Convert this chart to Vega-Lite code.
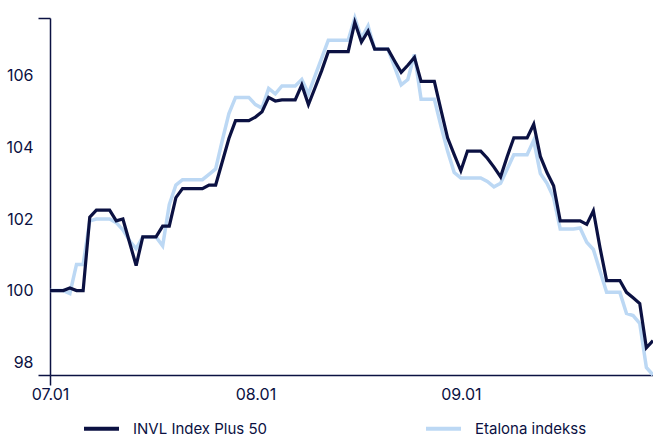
{
  "$schema": "https://vega.github.io/schema/vega-lite/v6.json",
  "width": 603,
  "height": 357,
  "autosize": {"type": "none"},
  "padding": {"left": 50, "top": 18, "right": 0, "bottom": 61},
  "background": "white",
  "config": {
    "view": {"stroke": null},
    "font": "Inter",
    "axis": {
      "grid": false,
      "domainColor": "#0b1142",
      "domainWidth": 1.5,
      "tickWidth": 1.5,
      "labelColor": "#0b1142",
      "labelFontSize": 16,
      "labelFont": "Inter",
      "labelOverlap": false,
      "labelFlush": false
    }
  },
  "data": {
    "values": [
      {"date": "2025-07-01", "INVL Index Plus 50": 100.0, "Etalona indekss": 100.0},
      {"date": "2025-07-02", "INVL Index Plus 50": 100.0, "Etalona indekss": 100.0},
      {"date": "2025-07-03", "INVL Index Plus 50": 100.0, "Etalona indekss": 100.0},
      {"date": "2025-07-04", "INVL Index Plus 50": 100.07, "Etalona indekss": 99.92},
      {"date": "2025-07-05", "INVL Index Plus 50": 100.0, "Etalona indekss": 100.73},
      {"date": "2025-07-06", "INVL Index Plus 50": 100.0, "Etalona indekss": 100.73},
      {"date": "2025-07-07", "INVL Index Plus 50": 102.05, "Etalona indekss": 101.95},
      {"date": "2025-07-08", "INVL Index Plus 50": 102.25, "Etalona indekss": 102.0},
      {"date": "2025-07-09", "INVL Index Plus 50": 102.25, "Etalona indekss": 102.0},
      {"date": "2025-07-10", "INVL Index Plus 50": 102.25, "Etalona indekss": 102.0},
      {"date": "2025-07-11", "INVL Index Plus 50": 101.95, "Etalona indekss": 101.9},
      {"date": "2025-07-12", "INVL Index Plus 50": 102.0, "Etalona indekss": 101.7},
      {"date": "2025-07-13", "INVL Index Plus 50": 101.35, "Etalona indekss": 101.4},
      {"date": "2025-07-14", "INVL Index Plus 50": 100.7, "Etalona indekss": 101.17},
      {"date": "2025-07-15", "INVL Index Plus 50": 101.5, "Etalona indekss": 101.5},
      {"date": "2025-07-16", "INVL Index Plus 50": 101.5, "Etalona indekss": 101.5},
      {"date": "2025-07-17", "INVL Index Plus 50": 101.5, "Etalona indekss": 101.5},
      {"date": "2025-07-18", "INVL Index Plus 50": 101.8, "Etalona indekss": 101.25},
      {"date": "2025-07-19", "INVL Index Plus 50": 101.8, "Etalona indekss": 102.4},
      {"date": "2025-07-20", "INVL Index Plus 50": 102.6, "Etalona indekss": 102.95},
      {"date": "2025-07-21", "INVL Index Plus 50": 102.85, "Etalona indekss": 103.1},
      {"date": "2025-07-22", "INVL Index Plus 50": 102.85, "Etalona indekss": 103.1},
      {"date": "2025-07-23", "INVL Index Plus 50": 102.85, "Etalona indekss": 103.1},
      {"date": "2025-07-24", "INVL Index Plus 50": 102.85, "Etalona indekss": 103.1},
      {"date": "2025-07-25", "INVL Index Plus 50": 102.95, "Etalona indekss": 103.25},
      {"date": "2025-07-26", "INVL Index Plus 50": 102.95, "Etalona indekss": 103.4},
      {"date": "2025-07-27", "INVL Index Plus 50": 103.6, "Etalona indekss": 104.2},
      {"date": "2025-07-28", "INVL Index Plus 50": 104.25, "Etalona indekss": 104.95},
      {"date": "2025-07-29", "INVL Index Plus 50": 104.75, "Etalona indekss": 105.4},
      {"date": "2025-07-30", "INVL Index Plus 50": 104.75, "Etalona indekss": 105.4},
      {"date": "2025-07-31", "INVL Index Plus 50": 104.75, "Etalona indekss": 105.4},
      {"date": "2025-08-01", "INVL Index Plus 50": 104.85, "Etalona indekss": 105.2},
      {"date": "2025-08-02", "INVL Index Plus 50": 105.0, "Etalona indekss": 105.1},
      {"date": "2025-08-03", "INVL Index Plus 50": 105.4, "Etalona indekss": 105.65},
      {"date": "2025-08-04", "INVL Index Plus 50": 105.3, "Etalona indekss": 105.5},
      {"date": "2025-08-05", "INVL Index Plus 50": 105.33, "Etalona indekss": 105.72},
      {"date": "2025-08-06", "INVL Index Plus 50": 105.33, "Etalona indekss": 105.72},
      {"date": "2025-08-07", "INVL Index Plus 50": 105.33, "Etalona indekss": 105.72},
      {"date": "2025-08-08", "INVL Index Plus 50": 105.75, "Etalona indekss": 105.9},
      {"date": "2025-08-09", "INVL Index Plus 50": 105.2, "Etalona indekss": 105.5},
      {"date": "2025-08-10", "INVL Index Plus 50": 105.67, "Etalona indekss": 106.0},
      {"date": "2025-08-11", "INVL Index Plus 50": 106.15, "Etalona indekss": 106.5},
      {"date": "2025-08-12", "INVL Index Plus 50": 106.68, "Etalona indekss": 107.0},
      {"date": "2025-08-13", "INVL Index Plus 50": 106.68, "Etalona indekss": 107.0},
      {"date": "2025-08-14", "INVL Index Plus 50": 106.68, "Etalona indekss": 107.0},
      {"date": "2025-08-15", "INVL Index Plus 50": 106.68, "Etalona indekss": 107.0},
      {"date": "2025-08-16", "INVL Index Plus 50": 107.5, "Etalona indekss": 107.62},
      {"date": "2025-08-17", "INVL Index Plus 50": 106.95, "Etalona indekss": 107.05},
      {"date": "2025-08-18", "INVL Index Plus 50": 107.25, "Etalona indekss": 107.4},
      {"date": "2025-08-19", "INVL Index Plus 50": 106.75, "Etalona indekss": 106.75},
      {"date": "2025-08-20", "INVL Index Plus 50": 106.75, "Etalona indekss": 106.75},
      {"date": "2025-08-21", "INVL Index Plus 50": 106.75, "Etalona indekss": 106.75},
      {"date": "2025-08-22", "INVL Index Plus 50": 106.42, "Etalona indekss": 106.25},
      {"date": "2025-08-23", "INVL Index Plus 50": 106.1, "Etalona indekss": 105.75},
      {"date": "2025-08-24", "INVL Index Plus 50": 106.3, "Etalona indekss": 105.9},
      {"date": "2025-08-25", "INVL Index Plus 50": 106.52, "Etalona indekss": 106.6},
      {"date": "2025-08-26", "INVL Index Plus 50": 105.85, "Etalona indekss": 105.35},
      {"date": "2025-08-27", "INVL Index Plus 50": 105.85, "Etalona indekss": 105.35},
      {"date": "2025-08-28", "INVL Index Plus 50": 105.85, "Etalona indekss": 105.35},
      {"date": "2025-08-29", "INVL Index Plus 50": 105.05, "Etalona indekss": 104.6},
      {"date": "2025-08-30", "INVL Index Plus 50": 104.27, "Etalona indekss": 103.9},
      {"date": "2025-08-31", "INVL Index Plus 50": 103.8, "Etalona indekss": 103.3},
      {"date": "2025-09-01", "INVL Index Plus 50": 103.35, "Etalona indekss": 103.15},
      {"date": "2025-09-02", "INVL Index Plus 50": 103.9, "Etalona indekss": 103.15},
      {"date": "2025-09-03", "INVL Index Plus 50": 103.9, "Etalona indekss": 103.15},
      {"date": "2025-09-04", "INVL Index Plus 50": 103.9, "Etalona indekss": 103.15},
      {"date": "2025-09-05", "INVL Index Plus 50": 103.7, "Etalona indekss": 103.05},
      {"date": "2025-09-06", "INVL Index Plus 50": 103.45, "Etalona indekss": 102.9},
      {"date": "2025-09-07", "INVL Index Plus 50": 103.18, "Etalona indekss": 103.0},
      {"date": "2025-09-08", "INVL Index Plus 50": 103.75, "Etalona indekss": 103.4},
      {"date": "2025-09-09", "INVL Index Plus 50": 104.27, "Etalona indekss": 103.8},
      {"date": "2025-09-10", "INVL Index Plus 50": 104.27, "Etalona indekss": 103.8},
      {"date": "2025-09-11", "INVL Index Plus 50": 104.27, "Etalona indekss": 103.8},
      {"date": "2025-09-12", "INVL Index Plus 50": 104.65, "Etalona indekss": 104.2},
      {"date": "2025-09-13", "INVL Index Plus 50": 103.75, "Etalona indekss": 103.27},
      {"date": "2025-09-14", "INVL Index Plus 50": 103.3, "Etalona indekss": 103.0},
      {"date": "2025-09-15", "INVL Index Plus 50": 102.93, "Etalona indekss": 102.6},
      {"date": "2025-09-16", "INVL Index Plus 50": 101.95, "Etalona indekss": 101.72},
      {"date": "2025-09-17", "INVL Index Plus 50": 101.95, "Etalona indekss": 101.72},
      {"date": "2025-09-18", "INVL Index Plus 50": 101.95, "Etalona indekss": 101.72},
      {"date": "2025-09-19", "INVL Index Plus 50": 101.95, "Etalona indekss": 101.75},
      {"date": "2025-09-20", "INVL Index Plus 50": 101.85, "Etalona indekss": 101.35},
      {"date": "2025-09-21", "INVL Index Plus 50": 102.23, "Etalona indekss": 101.15},
      {"date": "2025-09-22", "INVL Index Plus 50": 101.2, "Etalona indekss": 100.55},
      {"date": "2025-09-23", "INVL Index Plus 50": 100.28, "Etalona indekss": 99.95},
      {"date": "2025-09-24", "INVL Index Plus 50": 100.28, "Etalona indekss": 99.95},
      {"date": "2025-09-25", "INVL Index Plus 50": 100.28, "Etalona indekss": 99.95},
      {"date": "2025-09-26", "INVL Index Plus 50": 99.95, "Etalona indekss": 99.36},
      {"date": "2025-09-27", "INVL Index Plus 50": 99.8, "Etalona indekss": 99.3},
      {"date": "2025-09-28", "INVL Index Plus 50": 99.64, "Etalona indekss": 99.08},
      {"date": "2025-09-29", "INVL Index Plus 50": 98.4, "Etalona indekss": 97.85},
      {"date": "2025-09-30", "INVL Index Plus 50": 98.6, "Etalona indekss": 97.64}
    ]
  },
  "transform": [
    {"fold": ["INVL Index Plus 50", "Etalona indekss"], "as": ["series", "value"]}
  ],
  "encoding": {
    "x": {
      "field": "date",
      "type": "temporal",
      "scale": {
        "type": "utc",
        "nice": false,
        "domain": [
          {"year": 2025, "month": 7, "date": 1, "utc": true},
          {"year": 2025, "month": 9, "date": 30, "utc": true}
        ]
      },
      "axis": {
        "title": null,
        "values": [
          {"year": 2025, "month": 7, "date": 1, "utc": true},
          {"year": 2025, "month": 8, "date": 1, "utc": true},
          {"year": 2025, "month": 9, "date": 1, "utc": true}
        ],
        "format": "%m.%d",
        "tickSize": 10,
        "tickColor": {"condition": {"test": "utcmonth(datum.value) == 6", "value": "#0b1142"}, "value": "rgba(0,0,0,0)"},
        "labelPadding": 1
      }
    },
    "y": {
      "field": "value",
      "type": "quantitative",
      "scale": {"domain": [97.64, 107.62], "nice": false, "zero": false},
      "axis": {
        "title": null,
        "values": [97.64, 98, 100, 102, 104, 106, 107.62],
        "labelExpr": "datum.value % 2 == 0 ? datum.label : ''",
        "tickSize": 12,
        "tickColor": {"condition": {"test": "datum.value % 2 != 0", "value": "#0b1142"}, "value": "rgba(0,0,0,0)"},
        "labelPadding": 5
      }
    },
    "color": {
      "field": "series",
      "type": "nominal",
      "scale": {"domain": ["INVL Index Plus 50", "Etalona indekss"], "range": ["#0b1142", "#bcd8f4"]},
      "legend": {
        "title": null,
        "orient": "none",
        "legendX": 32,
        "legendY": 391,
        "direction": "horizontal",
        "symbolType": "stroke",
        "symbolSize": 1225,
        "symbolStrokeWidth": 4,
        "labelFontSize": 15,
        "labelFont": "Inter",
        "labelColor": "#0b1142",
        "labelOffset": 12,
        "labelLimit": 300,
        "columnPadding": 150
      }
    }
  },
  "layer": [
    {
      "transform": [{"filter": "datum.series == 'Etalona indekss'"}],
      "mark": {"type": "line", "strokeWidth": 3.5}
    },
    {
      "transform": [{"filter": "datum.series == 'INVL Index Plus 50'"}],
      "mark": {"type": "line", "strokeWidth": 3.2}
    }
  ]
}
